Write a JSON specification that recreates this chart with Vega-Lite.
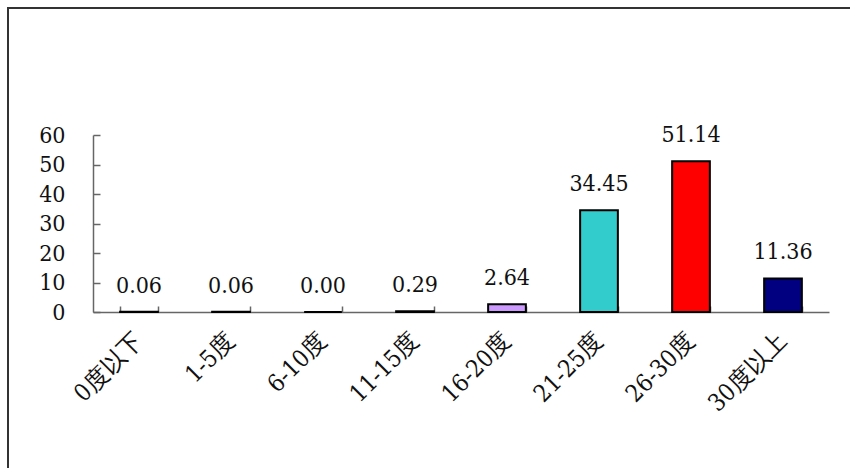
{
  "$schema": "https://vega.github.io/schema/vega-lite/v6.json",
  "width": 842,
  "height": 460,
  "autosize": {"type": "none"},
  "padding": {"left": 8, "top": 8, "right": 0, "bottom": 0},
  "background": "white",
  "config": {
    "font": "DejaVu Serif Condensed",
    "view": {"stroke": "#333", "strokeWidth": 2, "strokeDash": [842, 1302, 460]}
  },
  "data": {
    "values": [
      {"range": "0度以下", "pct": 0.06},
      {"range": "1-5度", "pct": 0.06},
      {"range": "6-10度", "pct": 0.0},
      {"range": "11-15度", "pct": 0.29},
      {"range": "16-20度", "pct": 2.64},
      {"range": "21-25度", "pct": 34.45},
      {"range": "26-30度", "pct": 51.14},
      {"range": "30度以上", "pct": 11.36}
    ]
  },
  "encoding": {
    "x": {
      "field": "range",
      "type": "nominal",
      "sort": null,
      "scale": {"range": [85, 821], "paddingInner": 0.59, "paddingOuter": 0.295},
      "axis": {
        "title": null,
        "grid": false,
        "labelAngle": -45,
        "labelAlign": "right",
        "labelBaseline": "middle",
        "labelFontSize": 24,
        "labelFont": "DejaVu Serif Condensed",
        "labelColor": "#111",
        "offset": -156,
        "tickBand": "extent",
        "tickSize": -6,
        "tickWidth": 1.5,
        "tickColor": "#666",
        "domainColor": "#666",
        "domainWidth": 1.5,
        "labelPadding": 31
      }
    },
    "y": {
      "field": "pct",
      "type": "quantitative",
      "scale": {"domain": [0, 60], "range": [304, 127], "nice": false},
      "axis": {
        "title": null,
        "grid": false,
        "values": [0, 10, 20, 30, 40, 50, 60],
        "labelFontSize": 23,
        "labelFont": "DejaVu Serif Condensed",
        "labelColor": "#111",
        "offset": -85,
        "tickSize": -7,
        "tickWidth": 1.5,
        "tickColor": "#666",
        "domainColor": "#666",
        "domainWidth": 1.5,
        "labelPadding": 35
      }
    }
  },
  "layer": [
    {
      "mark": {"type": "bar", "stroke": "black", "strokeWidth": 2},
      "encoding": {
        "color": {
          "field": "range",
          "type": "nominal",
          "sort": null,
          "scale": {
            "domain": ["0度以下", "1-5度", "6-10度", "11-15度", "16-20度", "21-25度", "26-30度", "30度以上"],
            "range": ["#000000", "#000000", "#000000", "#000000", "#cc99ff", "#33cccc", "#ff0000", "#000080"]
          },
          "legend": null
        }
      }
    },
    {
      "mark": {"type": "text", "dy": -19, "baseline": "alphabetic", "fontSize": 23, "color": "#111", "font": "DejaVu Serif Condensed"},
      "encoding": {
        "text": {"field": "pct", "type": "quantitative", "format": ".2f"}
      }
    }
  ]
}
